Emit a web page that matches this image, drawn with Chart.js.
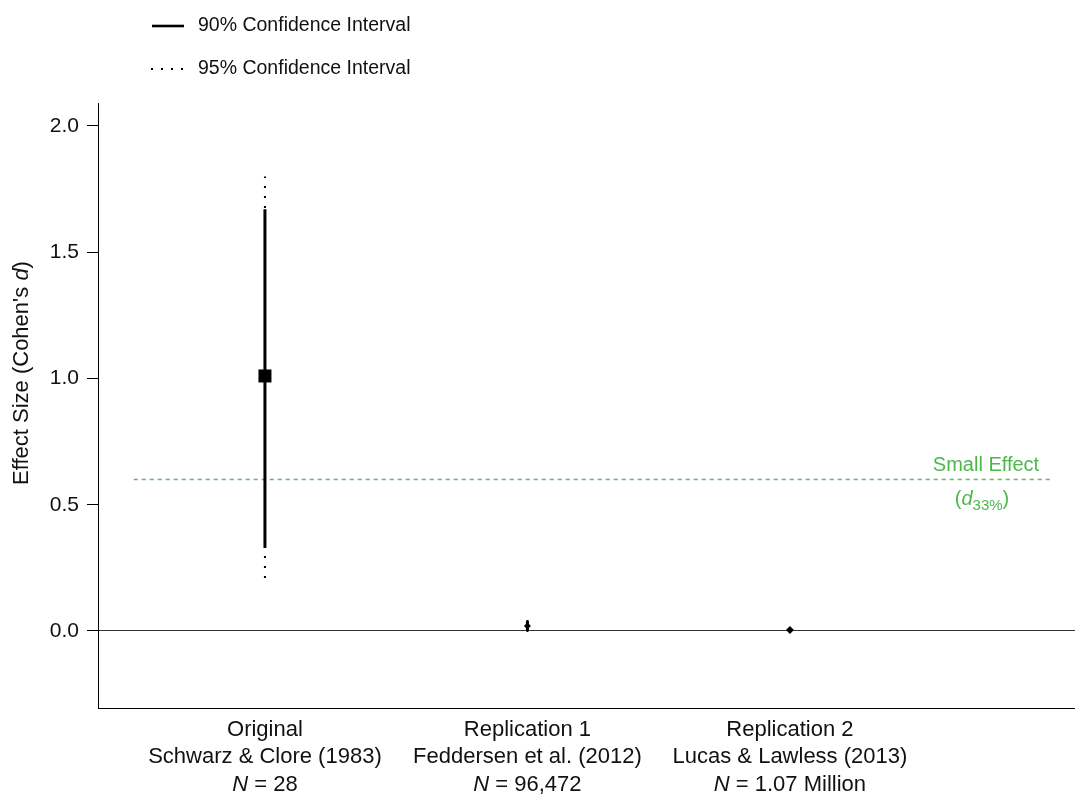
<!DOCTYPE html>
<html>
<head>
<meta charset="utf-8">
<script src="https://cdn.jsdelivr.net/npm/chart.js@4.4.1/dist/chart.umd.min.js"></script>
<style>
  html, body { margin: 0; padding: 0; background: #fff; overflow: hidden; }
  #wrap { width: 1075px; height: 804px; }
  canvas { display: block; }
</style>
</head>
<body>
<div id="wrap"><canvas id="chart" width="1075" height="804"></canvas></div>
<script>
// data
const categories = ["Original", "Replication 1", "Replication 2"];
const sources = ["Schwarz & Clore (1983)", "Feddersen et al. (2012)", "Lucas & Lawless (2013)"];
const sampleSizes = ["28", "96,472", "1.07 Million"];
const estimates = [1.01, 0.02, 0.004];
const ci90Low = [0.33, 0.0, -0.004];
const ci90High = [1.67, 0.04, 0.012];
const ci95Low = [0.21, -0.004, -0.008];
const ci95High = [1.80, 0.045, 0.016];
const yTicks = [0.0, 0.5, 1.0, 1.5, 2.0];
const smallEffect = 0.6;
const smallEffectSpan = [0.5, 4.0];

const FONT = "'Liberation Sans', Arial, sans-serif";
const GREEN = "#4cb84c";

// vertical segments, one per study, broken by null points
function segments(lo, hi) {
  const pts = [];
  categories.forEach((c, i) => {
    pts.push({ x: i + 1, y: lo[i] }, { x: i + 1, y: hi[i] }, { x: i + 1, y: null });
  });
  return pts;
}

// text drawn by hand: legend, axis title, category labels, small-effect note
const annotations = {
  id: "annotations",
  afterDraw(chart) {
    const ctx = chart.ctx;
    const xs = chart.scales.x;
    const ys = chart.scales.y;
    ctx.save();
    ctx.fillStyle = "#111";
    ctx.textBaseline = "middle";

    // legend
    ctx.strokeStyle = "#000";
    ctx.lineWidth = 2.6;
    ctx.beginPath();
    ctx.moveTo(152, 26); ctx.lineTo(184, 26);
    ctx.stroke();
    ctx.lineWidth = 2;
    ctx.setLineDash([2, 8]);
    ctx.beginPath();
    ctx.moveTo(151, 69); ctx.lineTo(186, 69);
    ctx.stroke();
    ctx.setLineDash([]);
    ctx.font = "19.5px " + FONT;
    ctx.textAlign = "left";
    ctx.fillText("90% Confidence Interval", 198, 26);
    ctx.fillText("95% Confidence Interval", 198, 69);

    // y axis title with italic d
    ctx.save();
    ctx.translate(22, 373);
    ctx.rotate(-Math.PI / 2);
    const p1 = "Effect Size (Cohen's ", p2 = "d", p3 = ")";
    ctx.font = "22px " + FONT;
    const w1 = ctx.measureText(p1).width, w3 = ctx.measureText(p3).width;
    ctx.font = "italic 22px " + FONT;
    const w2 = ctx.measureText(p2).width;
    let tx = -(w1 + w2 + w3) / 2;
    ctx.textAlign = "left";
    ctx.font = "22px " + FONT;
    ctx.fillText(p1, tx, 0); tx += w1;
    ctx.font = "italic 22px " + FONT;
    ctx.fillText(p2, tx, 0); tx += w2;
    ctx.font = "22px " + FONT;
    ctx.fillText(p3, tx, 0);
    ctx.restore();

    // category labels
    categories.forEach((c, i) => {
      const x = xs.getPixelForValue(i + 1);
      ctx.textAlign = "center";
      ctx.font = "22px " + FONT;
      ctx.fillText(c, x, 730);
      ctx.fillText(sources[i], x, 757);
      const rest = " = " + sampleSizes[i];
      ctx.font = "italic 22px " + FONT;
      const wn = ctx.measureText("N").width;
      ctx.font = "22px " + FONT;
      const wr = ctx.measureText(rest).width;
      let sx = x - (wn + wr) / 2;
      ctx.textAlign = "left";
      ctx.font = "italic 22px " + FONT;
      ctx.fillText("N", sx, 785);
      ctx.font = "22px " + FONT;
      ctx.fillText(rest, sx + wn, 785);
    });

    // small effect note
    const cy = ys.getPixelForValue(smallEffect);
    ctx.fillStyle = GREEN;
    ctx.textAlign = "center";
    ctx.font = "20px " + FONT;
    ctx.fillText("Small Effect", 986, cy - 14);
    const a = "(", d = "d", s = "33%", b = ")";
    const wa = ctx.measureText(a).width, wb = ctx.measureText(b).width;
    ctx.font = "italic 20px " + FONT;
    const wd = ctx.measureText(d).width;
    ctx.font = "15px " + FONT;
    const ws = ctx.measureText(s).width;
    let px = 982 - (wa + wd + ws + wb) / 2;
    const by = cy + 26;
    ctx.textAlign = "left";
    ctx.textBaseline = "alphabetic";
    ctx.font = "20px " + FONT;
    ctx.fillText(a, px, by); px += wa;
    ctx.font = "italic 20px " + FONT;
    ctx.fillText(d, px, by); px += wd;
    ctx.font = "15px " + FONT;
    ctx.fillText(s, px, by + 5); px += ws;
    ctx.font = "20px " + FONT;
    ctx.fillText(b, px, by);
    ctx.restore();
  }
};

new Chart(document.getElementById("chart"), {
  type: "line",
  data: {
    datasets: [
      {
        label: "Estimate",
        data: estimates.map((v, i) => ({ x: i + 1, y: v })),
        showLine: false,
        pointStyle: ["rect", "rectRot", "rectRot"],
        pointRadius: [9.2, 3.5, 4],
        pointBackgroundColor: "#000",
        pointBorderWidth: 0
      },
      {
        label: "90% Confidence Interval",
        data: segments(ci90Low, ci90High),
        borderColor: "#000",
        borderWidth: 3,
        pointRadius: 0,
        spanGaps: false
      },
      {
        label: "95% Confidence Interval",
        data: segments(ci95Low, ci95High),
        borderColor: "#000",
        borderWidth: 2,
        borderDash: [2, 8],
        pointRadius: 0,
        spanGaps: false
      },
      {
        label: "Small Effect",
        data: smallEffectSpan.map(x => ({ x: x, y: smallEffect })),
        borderColor: "#5cbd58",
        borderWidth: 1.5,
        borderDash: [4, 4],
        pointRadius: 0
      }
    ]
  },
  options: {
    responsive: false,
    animation: false,
    devicePixelRatio: 1,
    layout: { autoPadding: false, padding: { top: 103, left: 0, right: 0, bottom: 0 } },
    plugins: { legend: { display: false }, tooltip: { enabled: false } },
    scales: {
      x: {
        type: "linear",
        min: 0.364,
        max: 4.086,
        ticks: { display: false },
        grid: { display: false, drawTicks: false },
        border: { display: true, color: "#000", width: 1 },
        afterFit: s => { s.height = 96; s.paddingLeft = 0; s.paddingRight = 0; }
      },
      y: {
        type: "linear",
        min: -0.305,
        max: 2.091,
        afterBuildTicks: s => { s.ticks = yTicks.map(v => ({ value: v })); },
        ticks: {
          color: "#111",
          padding: 8,
          font: { family: FONT, size: 21 },
          callback: v => Number(v).toFixed(1)
        },
        grid: {
          drawOnChartArea: true,
          tickLength: 11,
          tickColor: "#000",
          color: c => (c.tick && c.tick.value === 0 ? "#333" : "rgba(0,0,0,0)"),
          lineWidth: 1
        },
        border: { display: true, color: "#000", width: 1 },
        afterFit: s => { s.width = 98; s.paddingTop = 0; s.paddingBottom = 0; }
      }
    }
  },
  plugins: [annotations]
});
</script>
</body>
</html>
